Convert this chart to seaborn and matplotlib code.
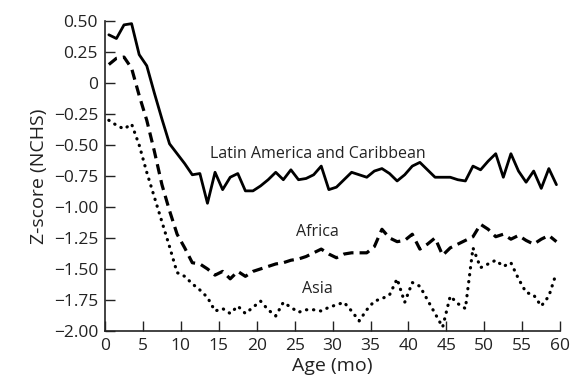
import matplotlib
matplotlib.use("Agg")
import matplotlib.pyplot as plt
import numpy as np
import pandas as pd
import seaborn as sns

# Age at mid-month (months)
age_mo = [0.5, 1.5, 2.5, 3.5, 4.5, 5.5, 6.5, 7.5, 8.5, 9.5,
          10.5, 11.5, 12.5, 13.5, 14.5, 15.5, 16.5, 17.5, 18.5, 19.5,
          20.5, 21.5, 22.5, 23.5, 24.5, 25.5, 26.5, 27.5, 28.5, 29.5,
          30.5, 31.5, 32.5, 33.5, 34.5, 35.5, 36.5, 37.5, 38.5, 39.5,
          40.5, 41.5, 42.5, 43.5, 44.5, 45.5, 46.5, 47.5, 48.5, 49.5,
          50.5, 51.5, 52.5, 53.5, 54.5, 55.5, 56.5, 57.5, 58.5, 59.5]

# Weight-for-age z-scores (NCHS reference) by region
latin_america = [0.39, 0.36, 0.47, 0.48, 0.23, 0.14, -0.08, -0.29, -0.49, -0.57,
                 -0.65, -0.74, -0.73, -0.97, -0.72, -0.86, -0.76, -0.73, -0.87, -0.87,
                 -0.83, -0.78, -0.72, -0.78, -0.70, -0.78, -0.77, -0.74, -0.67, -0.86,
                 -0.84, -0.78, -0.72, -0.74, -0.76, -0.71, -0.69, -0.73, -0.79, -0.74,
                 -0.67, -0.64, -0.70, -0.76, -0.76, -0.76, -0.78, -0.79, -0.67, -0.70,
                 -0.63, -0.57, -0.76, -0.57, -0.71, -0.80, -0.71, -0.85, -0.69, -0.82]

africa = [0.15, 0.20, 0.21, 0.12, -0.10, -0.30, -0.55, -0.82, -1.03, -1.22,
          -1.33, -1.45, -1.46, -1.50, -1.55, -1.52, -1.58, -1.52, -1.56, -1.52,
          -1.50, -1.48, -1.46, -1.45, -1.43, -1.42, -1.40, -1.37, -1.34, -1.38,
          -1.41, -1.38, -1.37, -1.37, -1.37, -1.32, -1.18, -1.25, -1.28, -1.27,
          -1.22, -1.34, -1.30, -1.25, -1.39, -1.33, -1.30, -1.27, -1.24, -1.14,
          -1.18, -1.24, -1.22, -1.26, -1.23, -1.27, -1.30, -1.26, -1.23, -1.28]

asia = [-0.30, -0.34, -0.37, -0.33, -0.50, -0.72, -0.92, -1.12, -1.32, -1.53,
        -1.56, -1.62, -1.67, -1.73, -1.84, -1.82, -1.86, -1.80, -1.86, -1.81,
        -1.76, -1.83, -1.88, -1.77, -1.81, -1.85, -1.83, -1.83, -1.84, -1.81,
        -1.79, -1.77, -1.84, -1.92, -1.83, -1.76, -1.74, -1.71, -1.58, -1.77,
        -1.61, -1.64, -1.75, -1.86, -1.97, -1.72, -1.78, -1.82, -1.33, -1.49,
        -1.46, -1.43, -1.48, -1.45, -1.58, -1.69, -1.71, -1.80, -1.72, -1.53]

regions = ["Latin America and Caribbean", "Africa", "Asia"]
label_age = [28, 28, 28]
label_z = [-0.57, -1.20, -1.66]

x_ticks = [0, 5, 10, 15, 20, 25, 30, 35, 40, 45, 50, 55, 60]
y_ticks = [0.50, 0.25, 0, -0.25, -0.50, -0.75, -1.00, -1.25, -1.50, -1.75, -2.00]
y_tick_labels = ["0.50", "0.25", "0", "\u22120.25", "\u22120.50", "\u22120.75",
                 "\u22121.00", "\u22121.25", "\u22121.50", "\u22121.75", "\u22122.00"]

sns.set_theme(style="ticks")
plt.rcParams["font.family"] = ["Open Sans", "DejaVu Sans"]

df = pd.DataFrame({
    "age": age_mo * 3,
    "z": latin_america + africa + asia,
    "region": [regions[0]] * len(age_mo) + [regions[1]] * len(age_mo) + [regions[2]] * len(age_mo),
})

fig = plt.figure(figsize=(5.74, 3.92), dpi=100)
ax = fig.add_axes([0.183, 0.156, 0.793, 0.790])

line_styles = {
    regions[0]: dict(linestyle="-", linewidth=2.0),
    regions[1]: dict(linestyle=(0, (3.2, 1.9)), linewidth=2.3),
    regions[2]: dict(linestyle=(0, (0.1, 2.1)), linewidth=2.3, dash_capstyle="round"),
}
for name in regions:
    sub = df[df["region"] == name]
    sns.lineplot(data=sub, x="age", y="z", ax=ax, color="black",
                 legend=False, **line_styles[name])

for name, xa, za in zip(regions, label_age, label_z):
    ax.text(xa, za, name, ha="center", va="center", fontsize=11.5, color="#222222")

ax.set_xlim(0, 60)
ax.set_ylim(-2.0, 0.5)
ax.set_xticks(x_ticks)
ax.set_yticks(y_ticks)
ax.set_yticklabels(y_tick_labels)
ax.tick_params(axis="both", direction="in", length=7, width=1.0, labelsize=12.5,
               colors="#222222")
ax.tick_params(axis="x", pad=5)
ax.tick_params(axis="y", pad=5)
ax.set_xlabel("Age (mo)", fontsize=14, color="#222222", labelpad=2)
ax.set_ylabel("Z-score (NCHS)", fontsize=14, color="#222222", labelpad=4)
sns.despine(ax=ax)
for s in ("left", "bottom"):
    ax.spines[s].set_linewidth(1.2)
    ax.spines[s].set_color("#222222")

fig.savefig("out.png", dpi=100)
